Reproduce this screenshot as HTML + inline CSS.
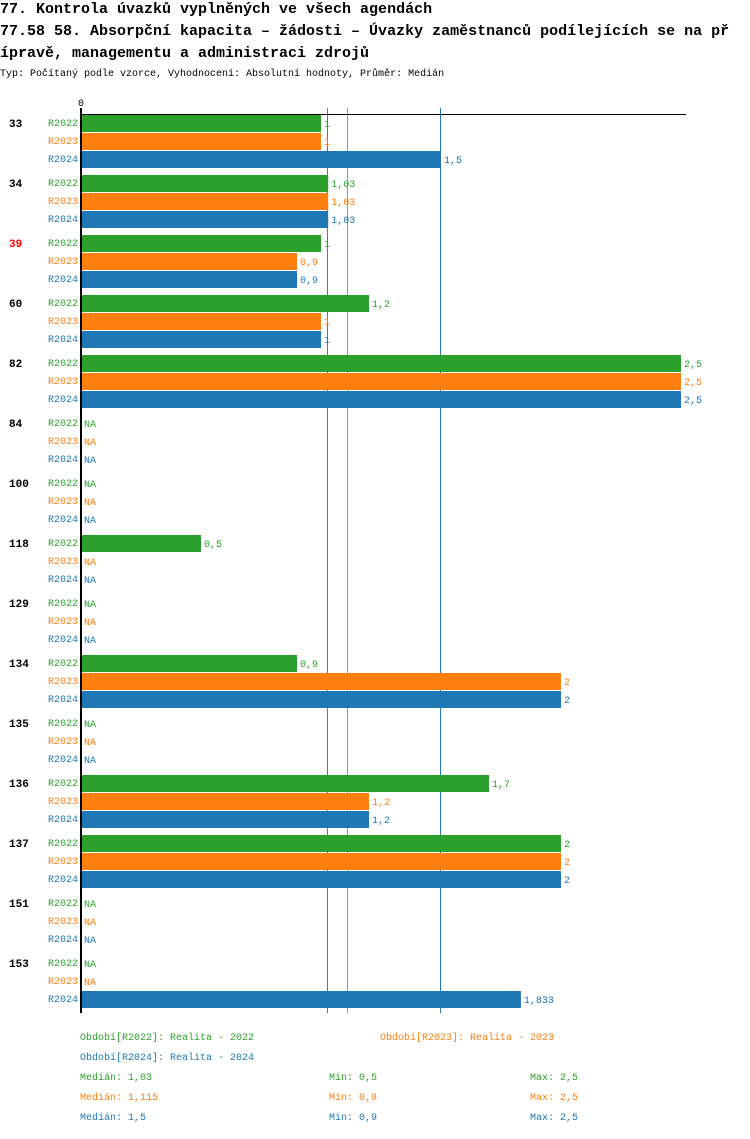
<!DOCTYPE html>
<html><head><meta charset="utf-8">
<style>
body{margin:0;background:#fff;width:750px;height:1134px;overflow:hidden;font-family:"Liberation Mono",monospace}
svg text{font-family:"Liberation Mono",monospace}
</style></head><body>
<svg id="chart" width="750" height="1134" xmlns="http://www.w3.org/2000/svg">
<text x="0" y="13" font-size="15" font-weight="bold">77. Kontrola úvazků vyplněných ve všech agendách</text>
<text x="0" y="35" font-size="15" font-weight="bold">77.58 58. Absorpční kapacita – žádosti – Úvazky zaměstnanců podílejících se na př</text>
<text x="0" y="57" font-size="15" font-weight="bold">ípravě, managementu a administraci zdrojů</text>
<text x="0" y="76" font-size="10">Typ: Počítaný podle vzorce, Vyhodnocení: Absolutní hodnoty, Průměr: Medián</text>
<g id="plot"></g>
</svg>
<script>
const categories=["33","34","39","60","82","84","100","118","129","134","135","136","137","151","153"];
const r2022=[1,1.03,1,1.2,2.5,null,null,0.5,null,0.9,null,1.7,2,null,null];
const r2023=[1,1.03,0.9,1,2.5,null,null,null,null,2,null,1.2,2,null,null];
const r2024=[1.5,1.03,0.9,1,2.5,null,null,null,null,2,null,1.2,2,null,1.833];
const seriesNames=["R2022","R2023","R2024"];
const medians=[1.03,1.115,1.5];
const mins=["0,5","0,9","0,9"];
const maxs=["2,5","2,5","2,5"];
const medianLabels=["1,03","1,115","1,5"];
const highlighted=["39"];
const colors=["#2ca02c","#ff7f0e","#1f77b4"];
const ns="http://www.w3.org/2000/svg";
const g=document.getElementById('plot');
const x0=81,pxPerUnit=240,top0=114,groupH=60,rowH=18;
const xs=v=>x0+v*pxPerUnit;
function mk(t,a){const e=document.createElementNS(ns,t);for(const k in a)e.setAttribute(k,a[k]);g.appendChild(e);return e;}
const fmt=v=>String(v).replace('.',',');
const bottom=top0+categories.length*groupH-1;
medians.forEach((m,i)=>{const l=mk('line',{x1:Math.floor(xs(m))-0.5,x2:Math.floor(xs(m))-0.5,y1:108,y2:bottom,stroke:colors[i],'stroke-width':1});

});
const series=[r2022,r2023,r2024];
categories.forEach((c,ci)=>{
  const gy=top0+ci*groupH;
  const lab=mk('text',{x:9,y:gy+13,'font-size':11,'font-weight':'bold',fill:highlighted.includes(c)?'#ff0000':'#000'});
  lab.textContent=c;
  
  
  series.forEach((s,si)=>{
    const y=gy+si*rowH;
    const sl=mk('text',{x:78,y:y+12,'font-size':10,fill:colors[si],'text-anchor':'end'});
    sl.textContent=seriesNames[si];
    
    
    const v=s[ci];
    if(v!==null){
      const r=mk('rect',{x:x0,y:y+1,width:xs(v)-x0,height:17,fill:colors[si]});
      
      
    }
    const vl=mk('text',{x:(v!==null?xs(v):x0)+3,y:y+13,'font-size':10,fill:colors[si]});
    vl.textContent=v!==null?fmt(v):'NA';
    
    
  });
});
const tl=mk('line',{x1:x0,x2:686,y1:top0+0.5,y2:top0+0.5,stroke:'#000','stroke-width':1});


const ax=mk('line',{x1:x0,x2:x0,y1:108,y2:bottom,stroke:'#000','stroke-width':2});


const zt=mk('text',{x:x0,y:106,'font-size':10,'text-anchor':'middle'});
zt.textContent='0';


function legendText(x,y,txt,col,anchor,name){const t=mk('text',{x:x,y:y,'font-size':10,fill:col,'text-anchor':anchor||'start'});t.textContent=txt;

}
legendText(80,1040,'Období[R2022]: Realita - 2022',colors[0],'start','legend-entry');
legendText(554,1040,'Období[R2023]: Realita - 2023',colors[1],'end','legend-entry');
legendText(80,1060,'Období[R2024]: Realita - 2024',colors[2],'start','legend-entry');
for(let i=0;i<3;i++){
  const y=1080+i*20;
  legendText(80,y,'Medián: '+medianLabels[i],colors[i],'start','median-stat');
  legendText(329,y,'Min: '+mins[i],colors[i],'start','min-stat');
  legendText(578,y,'Max: '+maxs[i],colors[i],'end','max-stat');
}
</script>
</body></html>
